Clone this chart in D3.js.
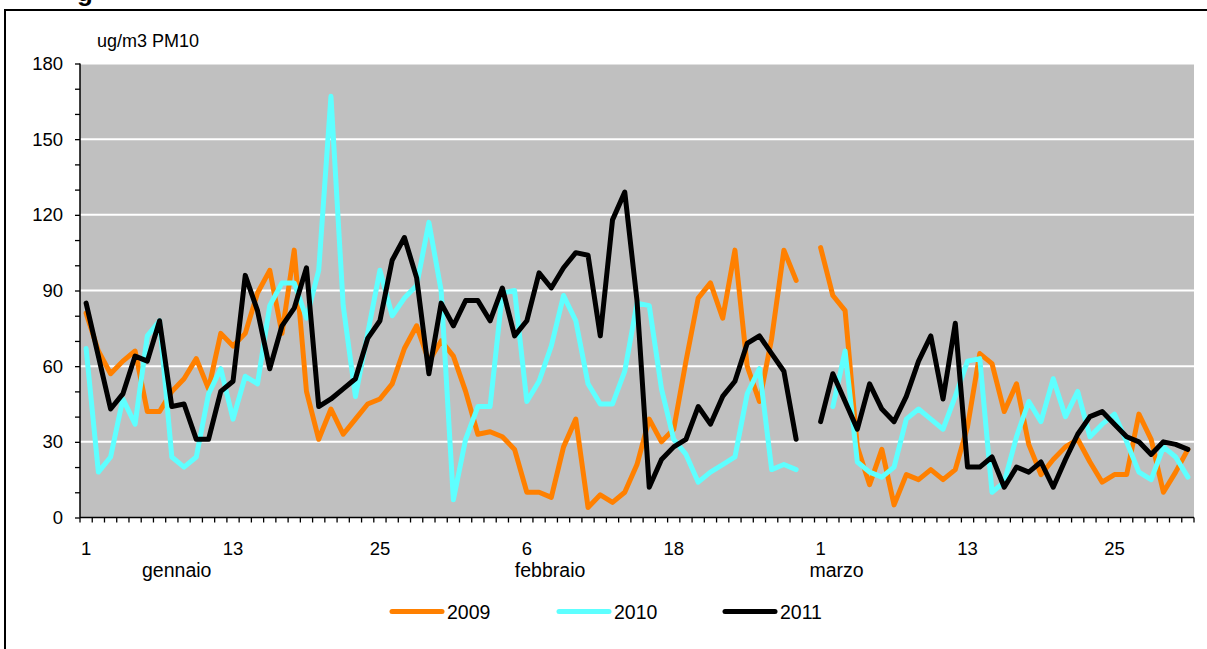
<!DOCTYPE html>
<html>
<head>
<meta charset="utf-8">
<script src="https://cdn.jsdelivr.net/npm/d3@7"></script>
<style>
  html, body { margin: 0; padding: 0; background: #fff; }
  svg { display: block; font-family: "Liberation Sans", Arial, sans-serif; }
</style>
</head>
<body>
<svg id="chart" width="1207" height="649"></svg>
<script>
// giorni: gennaio 1-31, febbraio 1-29, marzo 1-31
const months = ['gennaio', 'febbraio', 'marzo']
const monthDays = [31, 29, 31]
const years = ['2009', '2010', '2011']
const colors = ['#ff8000', '#5effff', '#000000']
const yTicks = [0, 30, 60, 90, 120, 150, 180]

const pm2009 = [
  81, 66, 57, 62, 66, 42, 42, 50, 55, 63, 51, 73, 68, 73, 89, 98, 73, 106, 50, 31, 43, 33, 39, 45, 47, 53, 67, 76, 62, 70, 64,
  50, 33, 34, 32, 27, 10, 10, 8, 28, 39, 4, 9, 6, 10, 21, 39, 30, 35, 62, 87, 93, 79, 106, 60, 46, 71, 106, 94, null,
  107, 88, 82, 28, 13, 27, 5, 17, 15, 19, 15, 19, 36, 65, 61, 42, 53, 29, 17, 23, 28, 31, 22, 14, 17, 17, 41, 31, 10, 18, 27
]
const pm2010 = [
  67, 18, 24, 47, 37, 72, 78, 24, 20, 24, 49, 59, 39, 56, 53, 84, 93, 93, 79, 98, 167, 84, 48, 73, 98, 80, 87, 92, 117, 90, 7,
  31, 44, 44, 89, 90, 46, 54, 68, 88, 78, 53, 45, 45, 58, 85, 84, 51, 31, 25, 14, 18, 21, 24, 49, 59, 19, 21, 19, null,
  null, 44, 66, 22, 18, 16, 20, 39, 43, 39, 35, 48, 62, 63, 10, 14, 32, 46, 38, 55, 40, 50, 32, 37, 41, 30, 18, 15, 28, 24, 16
]
const pm2011 = [
  85, 64, 43, 49, 64, 62, 78, 44, 45, 31, 31, 50, 54, 96, 82, 59, 76, 83, 99, 44, 47, 51, 55, 71, 78, 102, 111, 95, 57, 85, 76,
  86, 86, 78, 91, 72, 78, 97, 91, 99, 105, 104, 72, 118, 129, 86, 12, 23, 28, 31, 44, 37, 48, 54, 69, 72, 65, 58, 31, null,
  38, 57, 46, 35, 53, 43, 38, 48, 62, 72, 47, 77, 20, 20, 24, 12, 20, 18, 22, 12, 23, 33, 40, 42, 37, 32, 30, 25, 30, 29, 27
]
const series = [pm2009, pm2010, pm2011]

// categorie "giorno-mese"
const days = []
months.forEach((m, mi) => {
  for (let d = 1; d <= monthDays[mi]; d++) days.push({ key: m + '-' + d, day: d, month: mi })
})

const W = 1207
const H = 649
const plot = { left: 80, right: 1194, top: 63.5, bottom: 517.5 }

const svg = d3.select('#chart')

const x = d3.scaleBand()
  .domain(days.map((d) => d.key))
  .range([plot.left, plot.right])
  .padding(0)

const y = d3.scaleLinear()
  .domain([0, 180])
  .range([plot.bottom, plot.top])

// cornice e titolo tagliato
svg.append('text')
  .attr('x', 77)
  .attr('y', 1)
  .attr('font-size', 26)
  .attr('font-weight', 'bold')
  .text('g')

svg.append('rect')
  .attr('x', 5)
  .attr('y', 10)
  .attr('width', W + 10)
  .attr('height', H + 10)
  .attr('fill', 'none')
  .attr('stroke', '#000')
  .attr('stroke-width', 2)

// area del grafico
svg.append('rect')
  .attr('x', plot.left)
  .attr('y', plot.top)
  .attr('width', plot.right - plot.left)
  .attr('height', plot.bottom - plot.top)
  .attr('fill', '#c0c0c0')

svg.append('g')
  .selectAll('line')
  .data(yTicks.filter((t) => t > 0))
  .join('line')
  .attr('x1', plot.left)
  .attr('x2', plot.right)
  .attr('y1', (d) => y(d))
  .attr('y2', (d) => y(d))
  .attr('stroke', '#fff')
  .attr('stroke-width', 2)

// asse y
const yAxis = d3.axisLeft(y)
  .tickValues(d3.range(0, 181, 10))
  .tickSize(5)
  .tickFormat((d) => (yTicks.includes(d) ? d : ''))
  .tickPadding(12)

const gy = svg.append('g')
  .attr('transform', `translate(${plot.left},0)`)
  .call(yAxis)
gy.select('.domain').remove()
gy.selectAll('.tick line').attr('stroke', '#000').attr('stroke-width', 1.3)
gy.selectAll('.tick text')
  .attr('font-size', 18.5)
  .attr('font-family', '"Liberation Sans", Arial, sans-serif')
  .attr('fill', '#000')

// asse x: tacche su ogni giorno, etichette ogni 12 giorni
const gx = svg.append('g')
gx.selectAll('line')
  .data(d3.range(days.length + 1))
  .join('line')
  .attr('x1', (i) => plot.left + i * x.bandwidth())
  .attr('x2', (i) => plot.left + i * x.bandwidth())
  .attr('y1', plot.bottom)
  .attr('y2', plot.bottom + 5)
  .attr('stroke', '#000')
  .attr('stroke-width', 1.3)

gx.selectAll('text')
  .data(days.filter((d, i) => i % 12 === 0))
  .join('text')
  .attr('x', (d) => x(d.key) + x.bandwidth() / 2)
  .attr('y', 555)
  .attr('text-anchor', 'middle')
  .attr('font-size', 18.5)
  .text((d) => d.day)

// etichette dei mesi (posizione in giorni dall'inizio dell'asse)
const monthAt = [7.9, 38.4, 61.8]
svg.append('g')
  .selectAll('text')
  .data(months)
  .join('text')
  .attr('x', (d, i) => plot.left + monthAt[i] * x.bandwidth())
  .attr('y', 577)
  .attr('text-anchor', 'middle')
  .attr('font-size', 19.5)
  .text((d) => d)

svg.append('line')
  .attr('x1', plot.left)
  .attr('x2', plot.left)
  .attr('y1', plot.top)
  .attr('y2', plot.bottom)
  .attr('stroke', '#000')
  .attr('stroke-width', 1.5)

svg.append('line')
  .attr('x1', plot.left)
  .attr('x2', plot.right)
  .attr('y1', plot.bottom)
  .attr('y2', plot.bottom)
  .attr('stroke', '#000')
  .attr('stroke-width', 1.5)

svg.append('text')
  .attr('x', 97)
  .attr('y', 47)
  .attr('font-size', 18)
  .text('ug/m3 PM10')

// serie
const line = d3.line()
  .defined((d) => d != null)
  .x((d, i) => x(days[i].key) + x.bandwidth() / 2)
  .y((d) => y(d))

svg.append('g')
  .selectAll('path')
  .data(series)
  .join('path')
  .attr('d', line)
  .attr('fill', 'none')
  .attr('stroke', (d, i) => colors[i])
  .attr('stroke-width', 5)
  .attr('stroke-linejoin', 'round')
  .attr('stroke-linecap', 'round')

// legenda
const legendX = [390, 557, 723]
const legend = svg.append('g')
  .selectAll('g')
  .data(years)
  .join('g')
  .attr('transform', (d, i) => `translate(${legendX[i]},611.5)`)

legend.append('line')
  .attr('x1', 2)
  .attr('x2', 52)
  .attr('stroke', (d, i) => colors[i])
  .attr('stroke-width', 5)
  .attr('stroke-linecap', 'round')

legend.append('text')
  .attr('x', 57)
  .attr('y', 7)
  .attr('font-size', 19.5)
  .text((d) => d)
</script>
</body>
</html>
